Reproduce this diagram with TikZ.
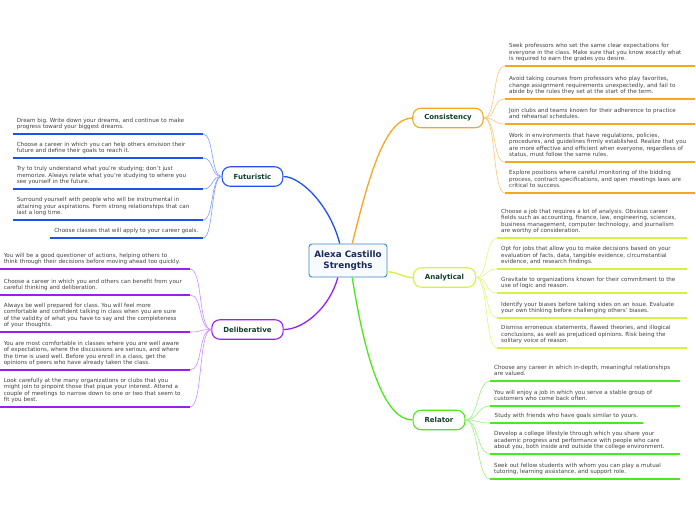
\documentclass[tikz,border=0pt]{standalone}
\usepackage{fontspec}
\setmainfont{DejaVu Sans}
\frenchspacing
\definecolor{futC}{HTML}{1F50F0}
\definecolor{futL}{HTML}{7E9CFF}
\definecolor{delC}{HTML}{9A1EF0}
\definecolor{delL}{HTML}{C98CFF}
\definecolor{conC}{HTML}{F5A623}
\definecolor{conL}{HTML}{FAC672}
\definecolor{anaC}{HTML}{D6F23E}
\definecolor{anaL}{HTML}{E4F57A}
\definecolor{relC}{HTML}{4CE81E}
\definecolor{relL}{HTML}{98F27C}
\definecolor{cenB}{HTML}{3F86C6}
\definecolor{cenF}{HTML}{F7FAFE}
\definecolor{cenT}{HTML}{1B2A5E}
\definecolor{brT}{HTML}{10402C}
\definecolor{leafT}{HTML}{404040}
\begin{document}
\begin{tikzpicture}[x=1pt,y=-1pt,
  leaf/.style={font=\fontsize{5.6}{6.5}\selectfont, text=leafT, align=left,
    text width=182pt, inner xsep=4pt, inner ysep=3pt, execute at end node=\strut},
  single/.style={font=\fontsize{5.6}{6.5}\selectfont, text=leafT,
    inner xsep=4.5pt, inner ysep=3pt, execute at end node=\strut},
  branch/.style={draw=#1, line width=1.1pt, fill=white, rounded corners=8pt,
    font=\fontsize{7}{8}\selectfont\bfseries, text=brT, inner xsep=11.5pt,
    minimum height=19.5pt, inner ysep=0pt},
  uline/.style={draw=#1, line width=1.2pt},
  twig/.style={draw=#1, line width=0.6pt},
  mainc/.style={draw=#1, line width=1.3pt}
]
\useasboundingbox (0,0) rectangle (696,520);

% central node
\node[draw=cenB, fill=cenF, line width=0.9pt, rounded corners=3pt,
  font=\fontsize{8.8}{10.5}\selectfont\bfseries, text=cenT, align=center,
  minimum width=78pt, minimum height=33pt, inner xsep=4pt] (C) at (348,260.5)
  {Alexa Castillo\\Strengths};

% branches
\node[branch=futC] (F) at (252.5,176.5) {Futuristic};
\node[branch=delC] (D) at (247.5,329.5) {Deliberative};
\node[branch=conC] (Co) at (448,118) {Consistency};
\node[branch=anaC] (A) at (444.5,277.5) {Analytical};
\node[branch=relC] (R) at (439,420) {Relator};

% main connectors
\draw[mainc=futC] (C.116) .. controls +(-10,-39) and +(17,0) .. (F.east);
\draw[mainc=conC] (C.76) .. controls +(16,-64) and +(-28,0) .. (Co.west);
\draw[mainc=anaC] (C.-16) .. controls +(10,0) and +(-10,0) .. (A.west);
\draw[mainc=relC] (C.-76) .. controls +(13,83) and +(-28,0) .. (R.west);
\draw[mainc=delC] (C.-121) .. controls +(-8,30) and +(20,0) .. (D.east);

% Futuristic leaves
\node[leaf, anchor=south east] (f1) at (203,134) {Dream big. Write down your dreams, and continue to make\\progress toward your biggest dreams.};
\node[leaf, anchor=south east] (f2) at (203,158) {Choose a career in which you can help others envision their\\future and define their goals to reach it.};
\node[leaf, anchor=south east] (f3) at (203,189) {Try to truly understand what you're studying; don't just\\memorize. Always relate what you're studying to where you\\see yourself in the future.};
\node[leaf, anchor=south east] (f4) at (203,220) {Surround yourself with people who will be instrumental in\\attaining your aspirations. Form strong relationships that can\\last a long time.};
\node[single, anchor=south east] (f5) at (203,238) {Choose classes that will apply to your career goals.};
\foreach \n in {f1,f2,f3,f4,f5}{
  \draw[twig=futL] (F.west) .. controls +(-11,0) and +(11,0) .. (\n.south east);
  \draw[uline=futC] (\n.south west) -- (\n.south east);
}

% Deliberative leaves
\node[leaf, anchor=south east] (d1) at (190,269) {You will be a good questioner of actions, helping others to\\think through their decisions before moving ahead too quickly.};
\node[leaf, anchor=south east] (d2) at (190,295) {Choose a career in which you and others can benefit from your\\careful thinking and deliberation.};
\node[leaf, anchor=south east] (d3) at (190,332) {Always be well prepared for class. You will feel more\\comfortable and confident talking in class when you are sure\\of the validity of what you have to say and the completeness\\of your thoughts.};
\node[leaf, anchor=south east] (d4) at (190,370) {You are most comfortable in classes where you are well aware\\of expectations, where the discussions are serious, and where\\the time is used well. Before you enroll in a class, get the\\opinions of peers who have already taken the class.};
\node[leaf, anchor=south east] (d5) at (190,407) {Look carefully at the many organizations or clubs that you\\might join to pinpoint those that pique your interest. Attend a\\couple of meetings to narrow down to one or two that seem to\\fit you best.};
\foreach \n in {d1,d2,d3,d4,d5}{
  \draw[twig=delL] (D.west) .. controls +(-13,0) and +(13,0) .. (\n.south east);
  \draw[uline=delC] (\n.south west) -- (\n.south east);
}

% Consistency leaves
\node[leaf, anchor=south west] (c1) at (505,66) {Seek professors who set the same clear expectations for\\everyone in the class. Make sure that you know exactly what\\is required to earn the grades you desire.};
\node[leaf, anchor=south west] (c2) at (505,99) {Avoid taking courses from professors who play favorites,\\change assignment requirements unexpectedly, and fail to\\abide by the rules they set at the start of the term.};
\node[leaf, anchor=south west] (c3) at (505,124) {Join clubs and teams known for their adherence to practice\\and rehearsal schedules.};
\node[leaf, anchor=south west] (c4) at (505,162) {Work in environments that have regulations, policies,\\procedures, and guidelines firmly established. Realize that you\\are more effective and efficient when everyone, regardless of\\status, must follow the same rules.};
\node[leaf, anchor=south west] (c5) at (505,193) {Explore positions where careful monitoring of the bidding\\process, contract specifications, and open meetings laws are\\critical to success.};
\foreach \n in {c1,c2,c3,c4,c5}{
  \draw[twig=conL] (Co.east) .. controls +(13,0) and +(-13,0) .. (\n.south west);
  \draw[uline=conC] (\n.south west) -- (\n.south east);
}

% Analytical leaves
\node[leaf, anchor=south west] (a1) at (497,238) {Choose a job that requires a lot of analysis. Obvious career\\fields such as accounting, finance, law, engineering, sciences,\\business management, computer technology, and journalism\\are worthy of consideration.};
\node[leaf, anchor=south west] (a2) at (497,269) {Opt for jobs that allow you to make decisions based on your\\evaluation of facts, data, tangible evidence, circumstantial\\evidence, and research findings.};
\node[leaf, anchor=south west] (a3) at (497,293) {Gravitate to organizations known for their commitment to the\\use of logic and reason.};
\node[leaf, anchor=south west] (a4) at (497,318) {Identify your biases before taking sides on an issue. Evaluate\\your own thinking before challenging others' biases.};
\node[leaf, anchor=south west] (a5) at (497,348) {Dismiss erroneous statements, flawed theories, and illogical\\conclusions, as well as prejudiced opinions. Risk being the\\solitary voice of reason.};
\foreach \n in {a1,a2,a3,a4,a5}{
  \draw[twig=anaL] (A.east) .. controls +(12,0) and +(-12,0) .. (\n.south west);
  \draw[uline=anaC] (\n.south west) -- (\n.south east);
}

% Relator leaves
\node[leaf, anchor=south west] (r1) at (490,381) {Choose any career in which in-depth, meaningful relationships\\are valued.};
\node[leaf, anchor=south west] (r2) at (490,406) {You will enjoy a job in which you serve a stable group of\\customers who come back often.};
\node[single, anchor=south west] (r3) at (490,423) {Study with friends who have goals similar to yours.};
\node[leaf, anchor=south west] (r4) at (490,454) {Develop a college lifestyle through which you share your\\academic progress and performance with people who care\\about you, both inside and outside the college environment.};
\node[leaf, anchor=south west] (r5) at (490,479) {Seek out fellow students with whom you can play a mutual\\tutoring, learning assistance, and support role.};
\foreach \n in {r1,r2,r3,r4,r5}{
  \draw[twig=relL] (R.east) .. controls +(13,0) and +(-13,0) .. (\n.south west);
  \draw[uline=relC] (\n.south west) -- (\n.south east);
}
\end{tikzpicture}
\end{document}
